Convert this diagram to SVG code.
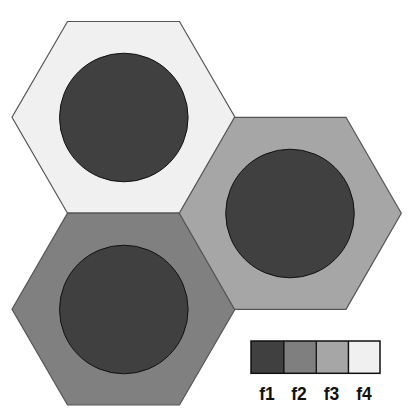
<svg xmlns="http://www.w3.org/2000/svg" width="415" height="416" viewBox="0 0 415 416">
<style>
.hex{stroke:#555;stroke-width:1.2}
.core{fill:#404040;stroke:#111;stroke-width:1}
.lab{font-family:"Liberation Sans",Arial,sans-serif;font-weight:bold;font-size:17.5px;fill:#111;text-anchor:middle}
</style>
<rect width="415" height="416" fill="#fff"/>
<g id="hex-top">
<polygon class="hex" fill="#f0f0f0" points="67.5,21.5 179.5,21.5 235,117.3 179.5,213.2 67.5,213.2 12,117.3"/>
<circle class="core" cx="123.8" cy="117.5" r="64.3"/>
</g>
<g id="hex-bottom">
<polygon class="hex" fill="#808080" points="67.5,213.2 179.5,213.2 235,309.2 179.5,405 67.5,405 12,309.2"/>
<circle class="core" cx="123.8" cy="309.5" r="64.3"/>
</g>
<g id="hex-right">
<polygon class="hex" fill="#a6a6a6" points="234.5,117.3 346,117.3 401.3,213.3 346,309.3 234.5,309.3 179.3,213.3"/>
<circle class="core" cx="290" cy="213.5" r="64.3"/>
</g>
<g id="legend">
<rect x="251" y="341" width="32.3" height="32.3" fill="#404040"/>
<rect x="283.3" y="341" width="32.3" height="32.3" fill="#7f7f7f"/>
<rect x="315.6" y="341" width="32.3" height="32.3" fill="#a6a6a6"/>
<rect x="347.9" y="341" width="32.1" height="32.3" fill="#f0f0f0"/>
<g stroke="#111" stroke-width="1.5" fill="none">
<rect x="251" y="341" width="129" height="32.3"/>
<line x1="283.8" y1="341" x2="283.8" y2="373.3"/>
<line x1="316.2" y1="341" x2="316.2" y2="373.3"/>
<line x1="348.4" y1="341" x2="348.4" y2="373.3"/>
</g>
<text class="lab" x="267" y="399.5">f1</text>
<text class="lab" x="299" y="399.5">f2</text>
<text class="lab" x="331.5" y="399.5">f3</text>
<text class="lab" x="364" y="399.5">f4</text>
</g>
</svg>
